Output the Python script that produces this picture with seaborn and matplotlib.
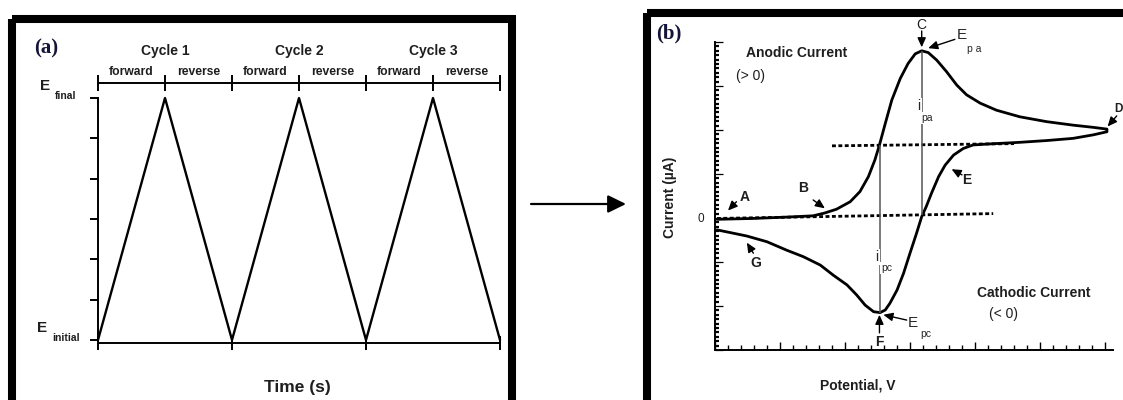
import numpy as np
import pandas as pd
import matplotlib
matplotlib.use('Agg')
import matplotlib.pyplot as plt
import seaborn as sns
from matplotlib.patches import Rectangle
from matplotlib.ticker import MultipleLocator

# ---------------- data ----------------
# (a) triangular potential waveform (time in half-cycles, E normalised)
half_cycle = [0, 1, 2, 3, 4, 5, 6]
potential_E = [0, 1, 0, 1, 0, 1, 0]
cycle_labels = ['Cycle 1', 'Cycle 2', 'Cycle 3']
phase_labels = ['forward', 'reverse']

# (b) cyclic voltammogram (potential in major-tick units, current in major-tick units)
fwd_x = [0.03, 0.59, 1.10, 1.51, 1.68, 1.87, 2.08, 2.23, 2.36, 2.46, 2.53, 2.62, 2.72,
         2.85, 2.97, 3.08, 3.18, 3.28, 3.41, 3.56, 3.72, 3.87, 4.08, 4.33, 4.69, 5.10,
         5.51, 5.82, 6.03]
fwd_y = [-0.03, -0.01, 0.02, 0.05, 0.11, 0.20, 0.37, 0.60, 0.94, 1.32, 1.66, 2.15, 2.68,
         3.17, 3.51, 3.73, 3.80, 3.76, 3.59, 3.33, 3.02, 2.80, 2.61, 2.45, 2.30, 2.19,
         2.11, 2.06, 2.02]
rev_x = [6.03, 5.82, 5.51, 5.10, 4.69, 4.18, 3.97, 3.82, 3.67, 3.54, 3.44, 3.33, 3.25,
         3.18, 3.10, 3.00, 2.90, 2.80, 2.69, 2.62, 2.54, 2.44, 2.31, 2.18, 2.03, 1.82,
         1.62, 1.36, 1.10, 0.80, 0.49, 0.23, 0.03]
rev_y = [1.96, 1.89, 1.81, 1.76, 1.72, 1.68, 1.66, 1.58, 1.43, 1.20, 0.94, 0.56, 0.26,
         0.03, -0.35, -0.80, -1.26, -1.64, -1.94, -2.09, -2.15, -2.13, -1.98, -1.75,
         -1.52, -1.30, -1.07, -0.88, -0.73, -0.54, -0.41, -0.33, -0.27]
base_lo_x = [0.03, 4.28]
base_lo_y = [-0.01, 0.10]
base_hi_x = [1.80, 4.60]
base_hi_y = [1.64, 1.69]

# ---------------- figure ----------------
sns.set_theme(style='white')
plt.rcParams['font.family'] = ['Liberation Sans', 'DejaVu Sans']
W, H = 1123, 400
fig = plt.figure(figsize=(W / 100, H / 100), dpi=100)


def box(l, t, r, b):
    return [l / W, (H - b) / H, (r - l) / W, (b - t) / H]


bg = fig.add_axes([0, 0, 1, 1], zorder=0)
bg.set_xlim(0, W)
bg.set_ylim(H, 0)
bg.axis('off')
bg.add_patch(Rectangle((12, 19), 500, 383, fill=False, ec='black', lw=5.8))
bg.add_patch(Rectangle((647, 13), 520, 389, fill=False, ec='black', lw=5.8))
bg.annotate('', xy=(626, 204), xytext=(531, 204),
            arrowprops=dict(arrowstyle='-|>,head_length=0.55,head_width=0.27',
                            mutation_scale=20, lw=1.6, color='black',
                            shrinkA=0, shrinkB=0))

TXT = '#1e1e1e'

# ---------------- panel (a) ----------------
axa = fig.add_axes(box(98, 98, 500, 343), zorder=1)
axa.patch.set_alpha(0)
sns.lineplot(x=half_cycle, y=potential_E, ax=axa, color='black', lw=1.7)
for ln in axa.lines:
    ln.set_clip_on(False)
axa.set_xlim(0, 6)
axa.set_ylim(-3 / 242, 1)
for s in ['top', 'right']:
    axa.spines[s].set_visible(False)
for s in ['left', 'bottom']:
    axa.spines[s].set_linewidth(1.4)
    axa.spines[s].set_color('black')
axa.set_xticks([0, 2, 4, 6])
axa.set_xticklabels([])
axa.tick_params(axis='x', bottom=True, direction='inout', length=10, width=1.4, color='black')
axa.set_yticks(np.linspace(0, 1, 7))
axa.set_yticklabels([])
axa.tick_params(axis='y', left=True, direction='out', length=6, width=1.4, color='black')
sec = axa.secondary_xaxis(1 + 15 / 245)
sec.set_xticks(half_cycle)
sec.set_xticklabels([])
sec.xaxis.set_ticks_position('top')
sec.tick_params(axis='x', top=True, direction='inout', length=11, width=1.4, color='black')
sec.spines['top'].set_linewidth(1.4)
sec.spines['top'].set_color('black')

axa.text(-0.77, 1.205, '(a)', family='Liberation Serif', weight='bold', fontsize=15,
         color='#141438', ha='center', va='center', clip_on=False)
for i, lab in enumerate(cycle_labels):
    axa.text(2 * i + 1, 1.194, lab, weight='bold', fontsize=10, ha='center', va='center', color=TXT)
    for j, ph in enumerate(phase_labels):
        axa.text(2 * i + j + 0.5, 1.109, ph, weight='bold', fontsize=8.7, ha='center', va='center', color=TXT)
axa.text(-0.79, 1.05, 'E', weight='bold', fontsize=11, ha='center', va='center', color=TXT)
axa.text(-0.49, 1.008, 'final', weight='bold', fontsize=7.5, ha='center', va='center', color=TXT)
axa.text(-0.84, 0.05, 'E', weight='bold', fontsize=11, ha='center', va='center', color=TXT)
axa.text(-0.48, 0.008, 'initial', weight='bold', fontsize=7.5, ha='center', va='center', color=TXT)
axa.text(2.97, -0.197, 'Time (s)', weight='bold', fontsize=12.5, ha='center', va='center', color=TXT)

# ---------------- panel (b) ----------------
axb = fig.add_axes(box(715, 42, 1113, 350), zorder=1)
axb.patch.set_alpha(0)
cv = pd.DataFrame({'E': fwd_x + rev_x, 'i': fwd_y + rev_y})
sns.lineplot(data=cv, x='E', y='i', ax=axb, sort=False, estimator=None, color='black', lw=2.0)
sns.lineplot(x=base_lo_x, y=base_lo_y, ax=axb, color='black', lw=2.0,
             linestyle=(0, (1.4, 0.9)))
sns.lineplot(x=base_hi_x, y=base_hi_y, ax=axb, color='black', lw=2.0,
             linestyle=(0, (1.4, 0.9)))
for ln in axb.lines:
    ln.set_clip_on(False)

ipa = int(np.argmax(fwd_y))
ipc = int(np.argmin(rev_y))
axb.vlines(fwd_x[ipa], np.interp(fwd_x[ipa], base_lo_x, base_lo_y), fwd_y[ipa], color='#555', lw=1.1)
axb.vlines(rev_x[ipc], rev_y[ipc], np.interp(rev_x[ipc], base_hi_x, base_hi_y), color='#555', lw=1.1)

axb.set_xlim(0, 398 / 65)
axb.set_ylim(-3, 4)
axb.set_xlabel('')
axb.set_ylabel('')
for s in ['top', 'right']:
    axb.spines[s].set_visible(False)
for s in ['left', 'bottom']:
    axb.spines[s].set_linewidth(1.4)
    axb.spines[s].set_color('black')
axb.xaxis.set_major_locator(MultipleLocator(1))
axb.xaxis.set_minor_locator(MultipleLocator(0.2))
axb.set_xticklabels([])
axb.tick_params(axis='x', which='major', bottom=True, direction='in', length=6, width=1.0, color='black')
axb.tick_params(axis='x', which='minor', bottom=True, direction='in', length=3.5, width=1.0, color='black')
axb.set_yticks(range(-3, 5))
axb.set_yticklabels(['0' if v == 0 else '' for v in range(-3, 5)])
axb.yaxis.set_minor_locator(MultipleLocator(0.1))
axb.tick_params(axis='y', which='major', left=True, direction='in', length=5.5, width=0.9,
                color='black', pad=8, labelsize=8.5, labelcolor=TXT)
axb.tick_params(axis='y', which='minor', left=True, direction='in', length=3.2, width=1.6, color='black')

axb.text(-0.71, 4.2, '(b)', family='Liberation Serif', weight='bold', fontsize=15,
         color='#141438', ha='center', va='center', clip_on=False)
axb.text(1.25, 3.74, 'Anodic Current', weight='bold', fontsize=10, ha='center', va='center', color=TXT)
axb.text(0.55, 3.23, '(> 0)', fontsize=10, ha='center', va='center', color=TXT)
axb.text(4.90, -1.71, 'Cathodic Current', weight='bold', fontsize=10, ha='center', va='center', color=TXT)
axb.text(4.44, -2.19, '(< 0)', fontsize=10, ha='center', va='center', color=TXT)
axb.text(2.2, -3.80, 'Potential, V', weight='bold', fontsize=10, ha='center', va='center',
         color=TXT, clip_on=False)
axb.text(-0.69, 0.48, 'Current (µA)', weight='bold', fontsize=10, rotation=90,
         ha='center', va='center', color=TXT, clip_on=False)

wb = dict(facecolor='white', edgecolor='none', pad=0.8)
axb.text(3.14, 2.55, 'i', fontsize=10, ha='center', va='center', bbox=wb)
axb.text(3.26, 2.27, 'pa', fontsize=7.5, ha='center', va='center', bbox=wb)
axb.text(2.49, -0.88, 'i', fontsize=10, ha='center', va='center', bbox=wb)
axb.text(2.64, -1.14, 'pc', fontsize=7.5, ha='center', va='center', bbox=wb)

arr = dict(arrowstyle='-|>,head_length=0.4,head_width=0.18', mutation_scale=14,
           lw=1.0, color='black', shrinkA=0, shrinkB=0)
labels_b = [
    ('C', (3.18, 4.39), (3.18, 4.25), (3.18, 3.88), 'normal'),
    ('A', (0.46, 0.48), (0.33, 0.37), (0.20, 0.17), 'bold'),
    ('B', (1.36, 0.68), (1.51, 0.41), (1.69, 0.22), 'bold'),
    ('E', (3.88, 0.86), (3.80, 0.98), (3.64, 1.11), 'bold'),
    ('G', (0.63, -1.03), (0.59, -0.80), (0.49, -0.56), 'bold'),
    ('F', (2.53, -2.81), (2.53, -2.61), (2.53, -2.20), 'bold'),
]
for lab, tpos, a0, a1, wt in labels_b:
    axb.text(tpos[0], tpos[1], lab, fontsize=10, weight=wt, ha='center', va='center',
             color=TXT, clip_on=False)
    axb.annotate('', xy=a1, xytext=a0, arrowprops=arr, annotation_clip=False)
axb.text(6.21, 2.48, 'D', fontsize=8.5, weight='bold', ha='center', va='center',
         color=TXT, clip_on=False)
axb.annotate('', xy=(6.04, 2.08), xytext=(6.18, 2.32), arrowprops=arr, annotation_clip=False)

axb.text(3.80, 4.16, 'E', fontsize=11, ha='center', va='center', clip_on=False)
axb.text(3.98, 3.84, 'p a', fontsize=7.5, ha='center', va='center', clip_on=False)
axb.annotate('', xy=(3.28, 3.86), xytext=(3.69, 4.06), arrowprops=arr, annotation_clip=False)
axb.text(3.04, -2.38, 'E', fontsize=11, ha='center', va='center', clip_on=False)
axb.text(3.24, -2.63, 'pc', fontsize=7.5, ha='center', va='center', clip_on=False)
axb.annotate('', xy=(2.59, -2.20), xytext=(2.95, -2.32), arrowprops=arr, annotation_clip=False)

fig.savefig('out.png', dpi=100)
